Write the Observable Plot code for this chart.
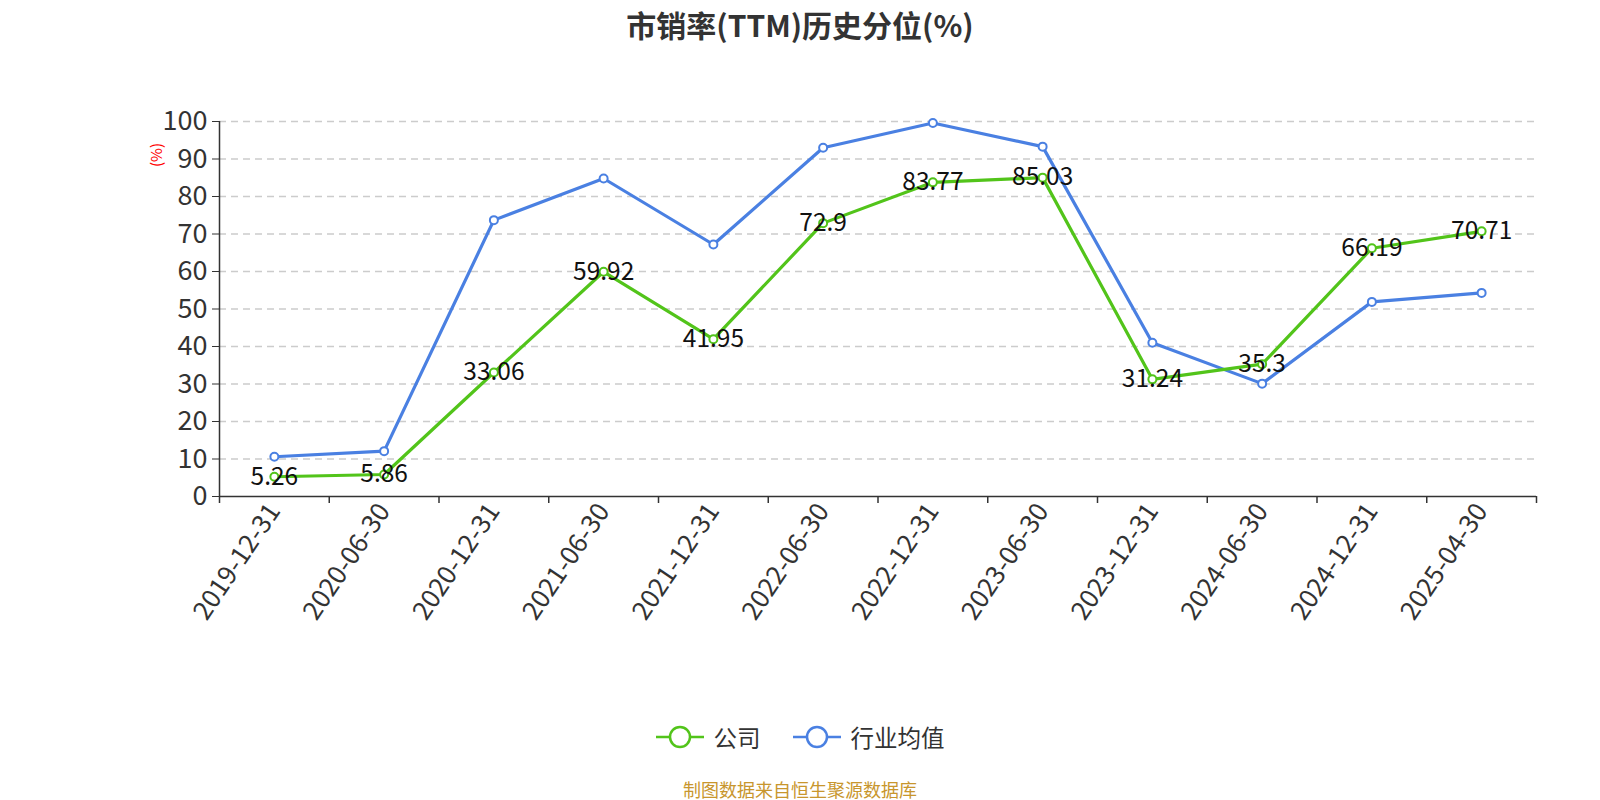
<!DOCTYPE html>
<html>
<head>
<meta charset="utf-8">
<script src="https://cdn.jsdelivr.net/npm/d3@7"></script>
<script src="https://cdn.jsdelivr.net/npm/@observablehq/plot@0.6"></script>
<style>
  html, body { margin: 0; padding: 0; background: #fff; }
  body { width: 1600px; height: 800px; position: relative; overflow: hidden;
         font-family: "Noto Sans CJK SC", "Noto Sans", sans-serif; }
  #title { position: absolute; top: 2px; left: 0; width: 1600px; text-align: center;
           font-size: 30px; font-weight: bold; color: #333; }
  #chart { position: absolute; top: 0; left: 0; }
  #ylabel { position: absolute; left: 155px; top: 155px; color: red; font-size: 15px;
            transform: translate(-50%, -50%) rotate(-90deg); white-space: nowrap; }
  #legend { position: absolute; top: 720px; left: 0; width: 1600px; display: flex;
            justify-content: center; align-items: center; gap: 32px; font-size: 23.5px; color: #333; }
  .item { display: flex; align-items: center; gap: 10px; }
  #footer { position: absolute; top: 776px; left: 0; width: 1600px; text-align: center;
            font-size: 18px; color: #c8962d; }
</style>
</head>
<body>
<div id="title">市销率(TTM)历史分位(%)</div>
<div id="chart"></div>
<div id="ylabel">(%)</div>
<div id="legend"></div>
<div id="footer">制图数据来自恒生聚源数据库</div>
<script>
const categories = ["2019-12-31","2020-06-30","2020-12-31","2021-06-30","2021-12-31","2022-06-30","2022-12-31","2023-06-30","2023-12-31","2024-06-30","2024-12-31","2025-04-30"];
const companyValues = [5.26, 5.86, 33.06, 59.92, 41.95, 72.9, 83.77, 85.03, 31.24, 35.3, 66.19, 70.71];
const industryValues = [10.6, 12.1, 73.7, 84.8, 67.2, 93.0, 99.6, 93.3, 41.0, 30.1, 51.9, 54.3];
const yTicks = [0, 10, 20, 30, 40, 50, 60, 70, 80, 90, 100];
const seriesNames = ["公司", "行业均值"];
const colors = ["#52c41a", "#4a80e2"];

const company = categories.map((c, i) => ({i, c, v: companyValues[i]}));
const industry = categories.map((c, i) => ({i, c, v: industryValues[i]}));
const boundaries = d3.range(categories.length + 1).map(k => k - 0.5);

const font = "'Noto Sans CJK SC', 'Noto Sans', sans-serif";

const plot = Plot.plot({
  width: 1600,
  height: 660,
  marginLeft: 219,
  marginRight: 64,
  marginTop: 121,
  marginBottom: 164,
  style: {fontFamily: font, background: "transparent"},
  x: {type: "linear", domain: [-0.5, categories.length - 0.5]},
  y: {domain: [0, 100]},
  marks: [
    Plot.gridY(yTicks.filter(d => d > 0), {stroke: "#ccc", strokeOpacity: 1, strokeDasharray: "7,5", strokeWidth: 1.5}),
    Plot.axisY(yTicks, {tickSize: 7, tickPadding: 5, fontSize: 27, color: "#333", stroke: "#333", label: null}),
    Plot.ruleX([-0.5], {stroke: "#333", strokeWidth: 1.5}),
    Plot.ruleY([0], {stroke: "#333", strokeWidth: 1.5}),
    Plot.axisX(boundaries, {tickSize: 7, stroke: "#333", strokeWidth: 1.5, tickFormat: () => "", label: null}),
    Plot.axisX(d3.range(categories.length), {tickSize: 0, tickPadding: 10, tickRotate: -56, fontSize: 26, fill: "#333", tickFormat: i => categories[i], label: null}),
    Plot.line(industry, {x: "i", y: "v", stroke: colors[1], strokeWidth: 3.2}),
    Plot.line(company, {x: "i", y: "v", stroke: colors[0], strokeWidth: 3.2}),
    Plot.dot(industry, {x: "i", y: "v", r: 4, fill: "white", stroke: colors[1], strokeWidth: 2}),
    Plot.dot(company, {x: "i", y: "v", r: 4, fill: "white", stroke: colors[0], strokeWidth: 2}),
    Plot.text(company, {x: "i", y: "v", text: d => String(d.v), fontSize: 24.5, fill: "#111", dy: 0})
  ]
});
document.getElementById("chart").appendChild(plot);

const legend = document.getElementById("legend");
seriesNames.forEach((name, k) => {
  const item = document.createElement("div");
  item.className = "item";
  item.innerHTML = `<svg width="48" height="26"><line x1="0" y1="13" x2="48" y2="13" stroke="${colors[k]}" stroke-width="2.5"/><circle cx="24" cy="13" r="10" fill="white" stroke="${colors[k]}" stroke-width="2.5"/></svg><span>${name}</span>`;
  legend.appendChild(item);
});
</script>
</body>
</html>
